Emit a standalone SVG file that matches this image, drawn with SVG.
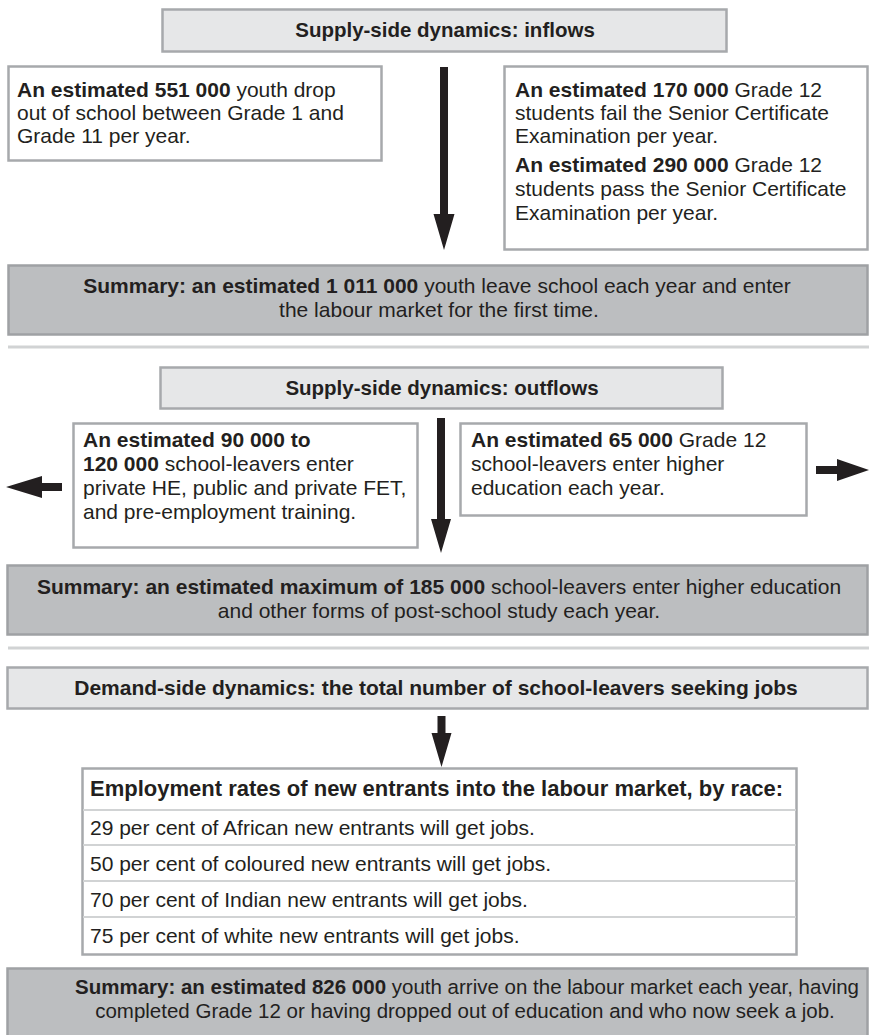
<svg xmlns="http://www.w3.org/2000/svg" width="869" height="1035" viewBox="0 0 869 1035">
<style>
  text { font-family: "Liberation Sans", Arial, sans-serif; fill: #231f20; font-size: 21px; }
  .b { font-weight: bold; }
  .ttl { font-size: 20.5px; font-weight: bold; text-anchor: middle; }
  .mid { text-anchor: middle; }
  .head { fill: #e6e7e8; stroke: #a7a9ac; stroke-width: 2.5; }
  .box { fill: #ffffff; stroke: #a7a9ac; stroke-width: 2.5; }
  .sum { fill: #bcbec0; stroke: #9fa1a4; stroke-width: 2.5; }
  .sep { stroke: #d1d3d4; stroke-width: 3; }
  .row { stroke: #d1d3d4; stroke-width: 2; }
  .arr { fill: #231f20; }
</style>
<rect width="869" height="1035" fill="#ffffff"/>

<g id="title-inflows">
  <rect class="head" x="162.5" y="9.5" width="564" height="42"/>
  <text class="ttl" x="445" y="37">Supply-side dynamics: inflows</text>
</g>

<g id="dropouts">
  <rect class="box" x="8.5" y="66.5" width="373" height="94"/>
  <text x="17" y="97"><tspan class="b">An estimated 551 000</tspan> youth drop</text>
  <text x="17" y="120">out of school between Grade 1 and</text>
  <text x="17" y="143">Grade 11 per year.</text>
</g>

<g id="grade12">
  <rect class="box" x="504.5" y="66.5" width="363" height="183"/>
  <text x="515" y="97"><tspan class="b">An estimated 170 000</tspan> Grade 12</text>
  <text x="515" y="120">students fail the Senior Certificate</text>
  <text x="515" y="143">Examination per year.</text>
  <text x="515" y="172"><tspan class="b">An estimated 290 000</tspan> Grade 12</text>
  <text x="515" y="196">students pass the Senior Certificate</text>
  <text x="515" y="220">Examination per year.</text>
</g>

<g id="summary-inflows">
  <rect class="sum" x="8.5" y="265.5" width="859" height="69"/>
  <text class="mid" x="437" y="293"><tspan class="b">Summary: an estimated 1 011 000</tspan> youth leave school each year and enter</text>
  <text class="mid" x="439" y="317">the labour market for the first time.</text>
</g>

<line class="sep" x1="8" y1="347" x2="869" y2="347"/>

<g id="title-outflows">
  <rect class="head" x="160.5" y="367.5" width="562" height="41"/>
  <text class="ttl" x="442" y="395">Supply-side dynamics: outflows</text>
</g>

<g id="post-school">
  <rect class="box" x="73.5" y="423.5" width="344" height="124"/>
  <text x="83" y="447" class="b">An estimated 90 000 to</text>
  <text x="83" y="471"><tspan class="b">120 000</tspan> school-leavers enter</text>
  <text x="83" y="495">private HE, public and private FET,</text>
  <text x="83" y="519">and pre-employment training.</text>
</g>

<g id="higher-ed">
  <rect class="box" x="460.5" y="423.5" width="346" height="92"/>
  <text x="471" y="447"><tspan class="b">An estimated 65 000</tspan> Grade 12</text>
  <text x="471" y="471">school-leavers enter higher</text>
  <text x="471" y="495">education each year.</text>
</g>

<g id="summary-outflows">
  <rect class="sum" x="7.5" y="565.5" width="860" height="69"/>
  <text class="mid" x="439" y="594"><tspan class="b">Summary: an estimated maximum of 185 000</tspan> school-leavers enter higher education</text>
  <text class="mid" x="439" y="618">and other forms of post-school study each year.</text>
</g>

<line class="sep" x1="8" y1="648" x2="869" y2="648"/>

<g id="title-demand">
  <rect class="head" x="7.5" y="667.5" width="860" height="41"/>
  <text class="ttl" x="436" y="695" style="font-size:21px">Demand-side dynamics: the total number of school-leavers seeking jobs</text>
</g>

<g id="employment-table">
  <rect class="box" x="82.5" y="768.5" width="714" height="186"/>
  <line class="row" x1="83" y1="810" x2="796" y2="810"/>
  <line class="row" x1="83" y1="845" x2="796" y2="845"/>
  <line class="row" x1="83" y1="881" x2="796" y2="881"/>
  <line class="row" x1="83" y1="917" x2="796" y2="917"/>
  <text x="90" y="796" class="b" style="font-size:22px">Employment rates of new entrants into the labour market, by race:</text>
  <text x="90" y="835">29 per cent of African new entrants will get jobs.</text>
  <text x="90" y="871">50 per cent of coloured new entrants will get jobs.</text>
  <text x="90" y="907">70 per cent of Indian new entrants will get jobs.</text>
  <text x="90" y="943">75 per cent of white new entrants will get jobs.</text>
</g>

<g id="summary-demand">
  <rect class="sum" x="7.5" y="968.5" width="860" height="70"/>
  <text class="mid" x="467" y="994" style="font-size:20.5px"><tspan class="b">Summary: an estimated 826 000</tspan> youth arrive on the labour market each year, having</text>
  <text class="mid" x="465" y="1018" style="font-size:20.5px">completed Grade 12 or having dropped out of education and who now seek a job.</text>
</g>

<g id="connectors">
  <polygon class="arr" points="440,67 448,67 448,214 454.5,214 444,250 433.5,214 440,214"/>
  <polygon class="arr" points="437,418 445,418 445,519 451,519 441,553 431,519 437,519"/>
  <polygon class="arr" points="437.5,716 445.5,716 445.5,733 451.5,733 441.5,767 431.5,733 437.5,733"/>
  <polygon class="arr" points="62,483 42,483 42,476 6,487 42,498 42,491 62,491"/>
  <polygon class="arr" points="816,466 837,466 837,459 869,470 837,481 837,474 816,474"/>
</g>
</svg>
